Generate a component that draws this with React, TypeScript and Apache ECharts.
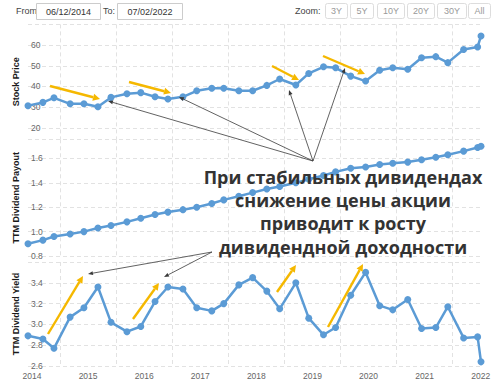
import React, { useEffect, useRef } from 'react';
import * as echarts from 'echarts';

// ---------- data ----------
const dates = [
  '2013-12-06', '2014-03-13', '2014-05-24', '2014-09-06', '2014-12-05', '2015-03-06',
  '2015-05-30', '2015-09-11', '2015-12-10', '2016-03-12', '2016-06-04', '2016-09-10',
  '2016-12-09', '2017-03-17', '2017-06-03', '2017-09-09', '2017-12-08', '2018-03-10',
  '2018-06-02', '2018-09-15', '2018-12-08', '2019-03-14', '2019-06-01', '2019-09-07',
  '2019-12-13', '2020-03-14', '2020-06-07', '2020-09-13', '2020-12-12', '2021-03-15',
  '2021-06-01', '2021-09-12', '2021-12-12', '2022-01-03',
];
const stockPrice = [
  30.7, 32.3, 34.5, 31.6, 31.6, 30.2, 34.7, 36.5, 37.0, 35.0, 33.9, 35.0,
  37.9, 39.1, 39.1, 37.9, 37.9, 40.5, 43.6, 40.7, 46.3, 49.5, 49.0, 45.0,
  42.6, 47.8, 49.0, 48.3, 53.9, 54.4, 51.5, 57.9, 59.1, 64.4,
];
const dividendPayout = [
  0.90, 0.93, 0.96, 0.98, 1.00, 1.03, 1.05, 1.08, 1.11, 1.14, 1.16, 1.18,
  1.20, 1.23, 1.26, 1.29, 1.32, 1.35, 1.37, 1.40, 1.43, 1.46, 1.49, 1.52,
  1.53, 1.55, 1.56, 1.57, 1.59, 1.61, 1.63, 1.66, 1.69, 1.70,
];
const dividendYield = [
  2.89, 2.86, 2.77, 3.07, 3.16, 3.36, 3.02, 2.93, 2.98, 3.22, 3.36, 3.34,
  3.16, 3.13, 3.20, 3.38, 3.45, 3.32, 3.15, 3.40, 3.06, 2.90, 2.97, 3.28,
  3.50, 3.18, 3.14, 3.24, 2.96, 2.97, 3.17, 2.87, 2.88, 2.64,
];
const panelTitles = ['Stock Price', 'TTM Dividend Payout', 'TTM Dividend Yield'];
const zoomButtons = ['3Y', '5Y', '10Y', '20Y', '30Y', 'All'];
const rangeFrom = '06/12/2014';
const rangeTo = '07/02/2022';
const noteLines = [
  'При стабильных дивидендах',
  'снижение цены акции',
  'приводит к росту',
  'дивидендной доходности',
];

// ---------- helpers ----------
const FONT = '"Liberation Sans", Arial, sans-serif';
const BLUE = '#5b9bd5';
const ORANGE = '#f5b800';

function toYear(s: string): number {
  const [y, m, d] = s.split('-').map(Number);
  const t = Date.UTC(y, m - 1, d);
  const a = Date.UTC(y, 0, 1);
  const b = Date.UTC(y + 1, 0, 1);
  return y + (t - a) / (b - a);
}

const xs = dates.map(toYear);
const xMin = xs[0];
const xMax = xs[xs.length - 1];

function arrow(x1: number, y1: number, x2: number, y2: number, color: string, w: number, hl: number, hw: number) {
  const ang = Math.atan2(y2 - y1, x2 - x1);
  const c = Math.cos(ang), s = Math.sin(ang);
  const bx = x2 - hl * c, by = y2 - hl * s;
  const px = -s * hw / 2, py = c * hw / 2;
  return [
    { type: 'line', z: 100, shape: { x1, y1, x2: bx, y2: by }, style: { stroke: color, lineWidth: w } },
    { type: 'polygon', z: 100, shape: { points: [[x2, y2], [bx + px, by + py], [bx - px, by - py]] }, style: { fill: color } },
  ];
}

function isMult(v: number, step: number) {
  const r = v / step;
  return Math.abs(r - Math.round(r)) < 1e-6;
}

function yAxisCfg(i: number, min: number, max: number, step: number, fmt: (v: number) => string, showMaxLine = true) {
  return {
    type: 'value', gridIndex: i, min, max, minInterval: step, maxInterval: step,
    name: panelTitles[i], nameLocation: 'middle', nameRotate: 90, nameGap: 7,
    nameTextStyle: { fontWeight: 'bold', fontSize: 9, color: '#1a1a1a', fontFamily: FONT },
    axisLine: { show: false }, axisTick: { show: false },
    axisLabel: {
      inside: true, margin: 3, fontSize: 8.5, color: '#666', fontFamily: FONT,
      verticalAlign: 'middle', padding: [0, 0, 5, 0], formatter: fmt,
    },
    splitLine: { show: true, showMaxLine, lineStyle: { type: [4, 3], color: '#e2e2e2', width: 1 } },
  };
}

function xAxes(i: number) {
  return [
    {
      type: 'value', gridIndex: i, min: xMin, max: xMax, minInterval: 1, maxInterval: 1,
      axisLine: { show: false }, axisTick: { show: false }, splitLine: { show: false },
      axisLabel: i === 2
        ? { show: true, margin: 5, fontSize: 8.5, color: '#666', fontFamily: FONT,
            formatter: (v: number) => (isMult(v, 1) ? String(Math.round(v)) : '') }
        : { show: false },
    },
    {
      type: 'value', gridIndex: i, min: xMin + 0.5, max: xMax + 0.5, minInterval: 1, maxInterval: 1,
      axisLine: { show: false }, axisTick: { show: false }, axisLabel: { show: false },
      splitLine: { show: true, showMinLine: false, showMaxLine: false, lineStyle: { type: [4, 3], color: '#e2e2e2', width: 1 } },
    },
  ];
}

function lineSeries(i: number, vals: number[]) {
  return {
    type: 'line', xAxisIndex: 2 * i, yAxisIndex: i,
    data: xs.map((x, k) => [x, vals[k]]),
    symbol: 'circle', symbolSize: 7,
    lineStyle: { color: BLUE, width: 2.5 }, itemStyle: { color: BLUE }, z: 3,
  };
}

function topBar() {
  const els: any[] = [];
  const txt = (text: string, x: number, y: number, fill: string, align = 'left') => ({
    type: 'text', z: 100, style: { text, x, y, fill, fontSize: 9, fontFamily: FONT, align, verticalAlign: 'middle' },
  });
  els.push(txt('From:', 16, 11, '#444'));
  els.push({ type: 'rect', z: 100, shape: { x: 36.5, y: 3.5, width: 64, height: 16 }, style: { fill: '#fff', stroke: '#ccc', lineWidth: 1 } });
  els.push(txt(rangeFrom, 68.5, 11.5, '#333', 'center'));
  els.push(txt('To:', 103, 11, '#444'));
  els.push({ type: 'rect', z: 100, shape: { x: 117.5, y: 3.5, width: 65, height: 16 }, style: { fill: '#fff', stroke: '#ccc', lineWidth: 1 } });
  els.push(txt(rangeTo, 150, 11.5, '#333', 'center'));
  els.push(txt('Zoom:', 295, 11, '#444'));
  const bx = [[325, 347], [350, 373], [377, 404], [407, 434], [437, 466], [468, 490]];
  zoomButtons.forEach((b, k) => {
    const [a, e] = bx[k];
    els.push({ type: 'rect', z: 100, shape: { x: a + 0.5, y: 3.5, width: e - a, height: 15, r: 2 }, style: { fill: '#fff', stroke: '#ddd', lineWidth: 1 } });
    els.push(txt(b, (a + e) / 2 + 0.5, 11, '#999', 'center'));
  });
  return els;
}

function annotations() {
  const els: any[] = [];
  const orange = [
    [50, 86, 100, 99], [129, 82, 171, 93], [272, 66, 299, 80], [323, 56, 365, 74],
    [48, 334, 83, 276], [133, 319, 159, 283], [277, 292, 296, 265], [328, 327, 363, 264],
  ];
  orange.forEach(([a, b, c, d]) => els.push(...arrow(a, b, c, d, ORANGE, 2.4, 7, 7)));
  const hub1 = [313, 161];
  [[108, 101], [179, 97], [289, 90], [345, 68]].forEach(([x, y]) => els.push(...arrow(hub1[0], hub1[1], x, y, '#3a3a3a', 0.8, 5, 4)));
  const hub2 = [212, 252];
  [[88, 274], [164, 277]].forEach(([x, y]) => els.push(...arrow(hub2[0], hub2[1], x, y, '#3a3a3a', 0.8, 5, 4)));
  const ys = [176.5, 200, 223.3, 246.7];
  noteLines.forEach((t, k) => {
    els.push({
      type: 'text', z: 101,
      style: { text: t, x: 343, y: ys[k], fill: '#333', fontSize: 18, fontWeight: 'bold', fontFamily: '"Open Sans", "Noto Sans", sans-serif', align: 'center', verticalAlign: 'middle' },
    });
  });
  return els;
}

export default function App() {
  const ref = useRef<HTMLDivElement>(null);
  useEffect(() => {
    const chart = echarts.init(ref.current!, null, { renderer: 'svg' });
    const option: any = {
      animation: false,
      backgroundColor: '#fff',
      textStyle: { fontFamily: FONT },
      grid: [
        { left: 28, right: 19, top: 24.4, height: 114.9 },
        { left: 28, right: 19, top: 139.3, height: 116.7 },
        { left: 28, right: 19, top: 262, height: 104 },
      ],
      xAxis: [...xAxes(0), ...xAxes(1), ...xAxes(2)],
      yAxis: [
        yAxisCfg(0, 14.44, 70, 10, (v: number) => (v > 19.9 && v < 60.1 && isMult(v, 10) ? String(Math.round(v)) : '')),
        yAxisCfg(1, 0.8, 1.757, 0.2, (v: number) => (v < 1.61 && isMult(v, 0.2) ? v.toFixed(1) : ''), false),
        yAxisCfg(2, 2.6, 3.6, 0.2, (v: number) => (v < 3.51 && isMult(v, 0.2) ? v.toFixed(1) : '')),
      ],
      series: [
        lineSeries(0, stockPrice),
        lineSeries(1, dividendPayout),
        lineSeries(2, dividendYield),
      ],
      graphic: [...topBar(), ...annotations()],
    };
    chart.setOption(option);
    return () => chart.dispose();
  }, []);
  return <div ref={ref} style={{ position: 'absolute', left: 0, top: 0, width: 500, height: 381 }} />;
}
